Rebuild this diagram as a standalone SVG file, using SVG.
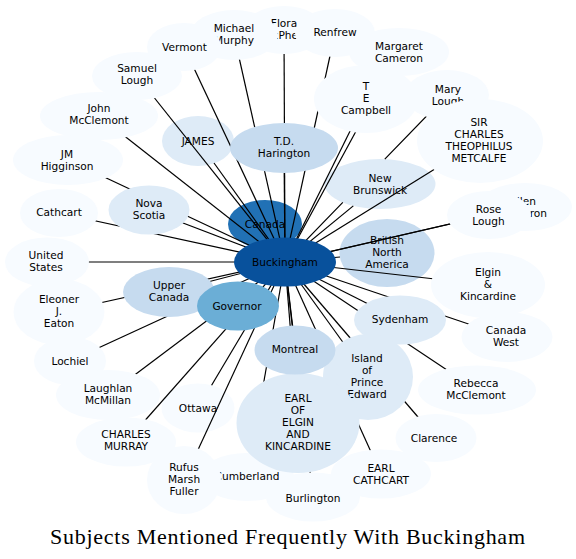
<svg xmlns="http://www.w3.org/2000/svg" width="576" height="559" viewBox="0 0 576 559">
<style>
.c0{fill:#f7fbff}.c1{fill:#deebf7}.c2{fill:#c6dbef}.c4{fill:#6baed6}.c6{fill:#2171b5}.c7{fill:#08519c}
text{font-family:"DejaVu Sans","Liberation Sans",sans-serif;font-size:10.6px;text-anchor:middle;fill:#000}
.e{stroke:#000;stroke-width:1.2;fill:none}
.title{font-family:"Liberation Serif","DejaVu Serif",serif;font-size:22px}
</style>
<rect width="576" height="559" fill="#fff"/>
<g id="node-canada"><ellipse class="c6" cx="265" cy="224" rx="37" ry="24"/><text x="265" y="227.8">Canada</text></g>
<g id="node-james"><ellipse class="c1" cx="198" cy="141" rx="36" ry="25"/><text x="198" y="144.8">JAMES</text></g>
<g id="node-bna"><ellipse class="c2" cx="387" cy="253" rx="47.5" ry="34"/><text x="387" y="243.8">British</text><text x="387" y="255.8">North</text><text x="387" y="267.8">America</text></g>
<g id="node-ottawa"><ellipse class="c0" cx="198" cy="408" rx="36.5" ry="24.5"/><text x="198" y="411.8">Ottawa</text></g>
<g id="node-newbrunswick"><ellipse class="c1" cx="380" cy="184" rx="55.5" ry="25"/><text x="380" y="181.8">New</text><text x="380" y="193.8">Brunswick</text></g>
<g id="connectors">
<path class="e" d="M99,116L285,262"/>
<path class="e" d="M68,160L285,262"/>
<path class="e" d="M59,213L285,262"/>
<path class="e" d="M47,262L285,262"/>
<path class="e" d="M59,312L285,262"/>
<path class="e" d="M70,361L285,262"/>
<path class="e" d="M108,395L285,262"/>
<path class="e" d="M126,442L285,262"/>
<path class="e" d="M184,480L285,262"/>
<path class="e" d="M247,477L285,262"/>
<path class="e" d="M313,497L285,262"/>
<path class="e" d="M381,474L285,262"/>
<path class="e" d="M436,438L285,262"/>
<path class="e" d="M477,390L285,262"/>
<path class="e" d="M507,337L285,262"/>
<path class="e" d="M488,285L285,262"/>
<path class="e" d="M524,207L285,262"/>
<path class="e" d="M489,215L285,262"/>
<path class="e" d="M447,95L384.8,159.1M342.8,202.4L285,262"/>
<path class="e" d="M480,141L285,262"/>
<path class="e" d="M399,52L285,262"/>
<path class="e" d="M137,76L285,262"/>
<path class="e" d="M284,30L285,262"/>
<path class="e" d="M335,33L285,262"/>
<path class="e" d="M234,35L285,262"/>
<path class="e" d="M184,47L285,262"/>
<path class="e" d="M149,210L285,262"/>
<path class="e" d="M169,292L285,262"/>
<path class="e" d="M284,148L285,262"/>
<path class="e" d="M366,99L285,262"/>
<path class="e" d="M400,320L285,262"/>
<path class="e" d="M368,377L285,262"/>
<path class="e" d="M298,423L285,262"/>
<path class="e" d="M295,350L285,262"/>
<path class="e" d="M214,163L285,262"/>
<path class="e" d="M340,257L285,262"/>
<path class="e" d="M211.6,385.2L285,262"/>
<path class="e" d="M353.3,205.9L285,262"/>
</g>
<g id="node-johnmcclemont"><ellipse class="c0" cx="99" cy="116" rx="59" ry="24"/><text x="99" y="111.8">John</text><text x="99" y="123.8">McClemont</text></g>
<g id="node-jmhigginson"><ellipse class="c0" cx="68" cy="160" rx="55" ry="25"/><text x="67" y="157.8">JM</text><text x="67" y="169.8">Higginson</text></g>
<g id="node-cathcart"><ellipse class="c0" cx="59" cy="213" rx="39" ry="24"/><text x="59" y="216.1">Cathcart</text></g>
<g id="node-unitedstates"><ellipse class="c0" cx="47" cy="262" rx="42" ry="24.5"/><text x="46" y="258.8">United</text><text x="46" y="270.8">States</text></g>
<g id="node-eleoner"><ellipse class="c0" cx="59" cy="312" rx="45.5" ry="33"/><text x="59" y="302.8">Eleoner</text><text x="59" y="314.8">J.</text><text x="59" y="326.8">Eaton</text></g>
<g id="node-lochiel"><ellipse class="c0" cx="70" cy="361" rx="36" ry="24"/><text x="70" y="364.5">Lochiel</text></g>
<g id="node-laughlan"><ellipse class="c0" cx="108" cy="395" rx="52" ry="25"/><text x="108" y="391.8">Laughlan</text><text x="108" y="403.8">McMillan</text></g>
<g id="node-charlesmurray"><ellipse class="c0" cx="126" cy="442" rx="50" ry="24.5"/><text x="126" y="438.3">CHARLES</text><text x="126" y="450.3">MURRAY</text></g>
<g id="node-cumberland"><ellipse class="c0" cx="247" cy="477" rx="47" ry="24"/><text x="247" y="479.8">Cumberland</text></g>
<g id="node-rufus"><ellipse class="c0" cx="184" cy="480" rx="37" ry="34"/><text x="184" y="470.8">Rufus</text><text x="184" y="482.8">Marsh</text><text x="184" y="494.8">Fuller</text></g>
<g id="node-burlington"><ellipse class="c0" cx="313" cy="497" rx="47" ry="24.5"/><text x="313" y="501.5">Burlington</text></g>
<g id="node-earlcathcart"><ellipse class="c0" cx="381" cy="474" rx="50" ry="24.5"/><text x="381" y="471.8">EARL</text><text x="381" y="483.8">CATHCART</text></g>
<g id="node-clarence"><ellipse class="c0" cx="436" cy="438" rx="40.5" ry="24"/><text x="434" y="441.5">Clarence</text></g>
<g id="node-rebecca"><ellipse class="c0" cx="477" cy="390" rx="59" ry="24.5"/><text x="476" y="386.8">Rebecca</text><text x="476" y="398.8">McClemont</text></g>
<g id="node-canadawest"><ellipse class="c0" cx="507" cy="337" rx="45.5" ry="25"/><text x="506" y="333.8">Canada</text><text x="506" y="345.8">West</text></g>
<g id="node-elgink"><ellipse class="c0" cx="488" cy="285" rx="57" ry="33"/><text x="488" y="275.8">Elgin</text><text x="488" y="287.8">&amp;</text><text x="488" y="299.8">Kincardine</text></g>
<g id="node-ellencameron"><ellipse class="c0" cx="525" cy="207" rx="47" ry="24"/><text x="523" y="205.3">Ellen</text><text x="523" y="217.3">Cameron</text></g>
<g id="node-roselough"><ellipse class="c0" cx="489" cy="215" rx="42" ry="24"/><text x="488.5" y="212.8">Rose</text><text x="488.5" y="224.8">Lough</text></g>
<g id="node-marylough"><ellipse class="c0" cx="447" cy="95" rx="42" ry="25"/><text x="448" y="92.8">Mary</text><text x="448" y="104.8">Lough</text></g>
<g id="node-sircharles"><ellipse class="c0" cx="480" cy="141" rx="63" ry="42"/><text x="479" y="125.8">SIR</text><text x="479" y="137.8">CHARLES</text><text x="479" y="149.8">THEOPHILUS</text><text x="479" y="161.8">METCALFE</text></g>
<g id="node-margaretcameron"><ellipse class="c0" cx="399" cy="52" rx="50" ry="24"/><text x="399" y="49.8">Margaret</text><text x="399" y="61.8">Cameron</text></g>
<g id="node-samuellough"><ellipse class="c0" cx="137" cy="76" rx="45" ry="24"/><text x="137" y="71.8">Samuel</text><text x="137" y="83.8">Lough</text></g>
<g id="node-flora"><ellipse class="c0" cx="284" cy="30" rx="40" ry="24"/><text x="284" y="26.8">Flora</text><text x="284" y="38.8">McPhee</text></g>
<g id="node-renfrew"><ellipse class="c0" cx="335" cy="33" rx="40" ry="24"/><text x="335" y="35.8">Renfrew</text></g>
<g id="node-michaelmurphy"><ellipse class="c0" cx="234" cy="35" rx="44" ry="25"/><text x="234" y="31.8">Michael</text><text x="234" y="43.8">Murphy</text></g>
<g id="node-vermont"><ellipse class="c0" cx="184" cy="47" rx="37" ry="24"/><text x="184.5" y="51">Vermont</text></g>
<g id="node-novascotia"><ellipse class="c1" cx="149" cy="210" rx="40.5" ry="24.5"/><text x="149" y="206.8">Nova</text><text x="149" y="218.8">Scotia</text></g>
<g id="node-uppercanada"><ellipse class="c2" cx="169" cy="292" rx="46" ry="25"/><text x="169" y="288.8">Upper</text><text x="169" y="300.8">Canada</text></g>
<g id="node-governor"><ellipse class="c4" cx="238" cy="306" rx="41" ry="24.5"/><text x="237" y="309.8">Governor</text></g>
<g id="node-tdharington"><ellipse class="c2" cx="284" cy="148" rx="54" ry="25"/><text x="284" y="144.8">T.D.</text><text x="284" y="156.8">Harington</text></g>
<g id="node-tecampbell"><ellipse class="c0" cx="366" cy="99" rx="52" ry="34"/><text x="366" y="89.8">T</text><text x="366" y="101.8">E</text><text x="366" y="113.8">Campbell</text></g>
<g id="node-sydenham"><ellipse class="c1" cx="400" cy="320" rx="46" ry="24.5"/><text x="400" y="323.1">Sydenham</text></g>
<g id="node-island"><ellipse class="c1" cx="368" cy="377" rx="45" ry="43"/><text x="367" y="361.8">Island</text><text x="367" y="373.8">of</text><text x="367" y="385.8">Prince</text><text x="367" y="397.8">Edward</text></g>
<g id="node-earlelgin"><ellipse class="c1" cx="298" cy="423" rx="61.5" ry="50"/><text x="298" y="401.8">EARL</text><text x="298" y="413.8">OF</text><text x="298" y="425.8">ELGIN</text><text x="298" y="437.8">AND</text><text x="298" y="449.8">KINCARDINE</text></g>
<g id="node-montreal"><ellipse class="c2" cx="295" cy="350" rx="40.5" ry="24.5"/><text x="295" y="352.8">Montreal</text></g>
<g id="node-buckingham"><ellipse class="c7" cx="285" cy="262" rx="51" ry="24.5"/><text x="285" y="265.8">Buckingham</text></g>
<text class="title" x="287.5" y="544" textLength="475" lengthAdjust="spacing">Subjects Mentioned Frequently With Buckingham</text>
</svg>
